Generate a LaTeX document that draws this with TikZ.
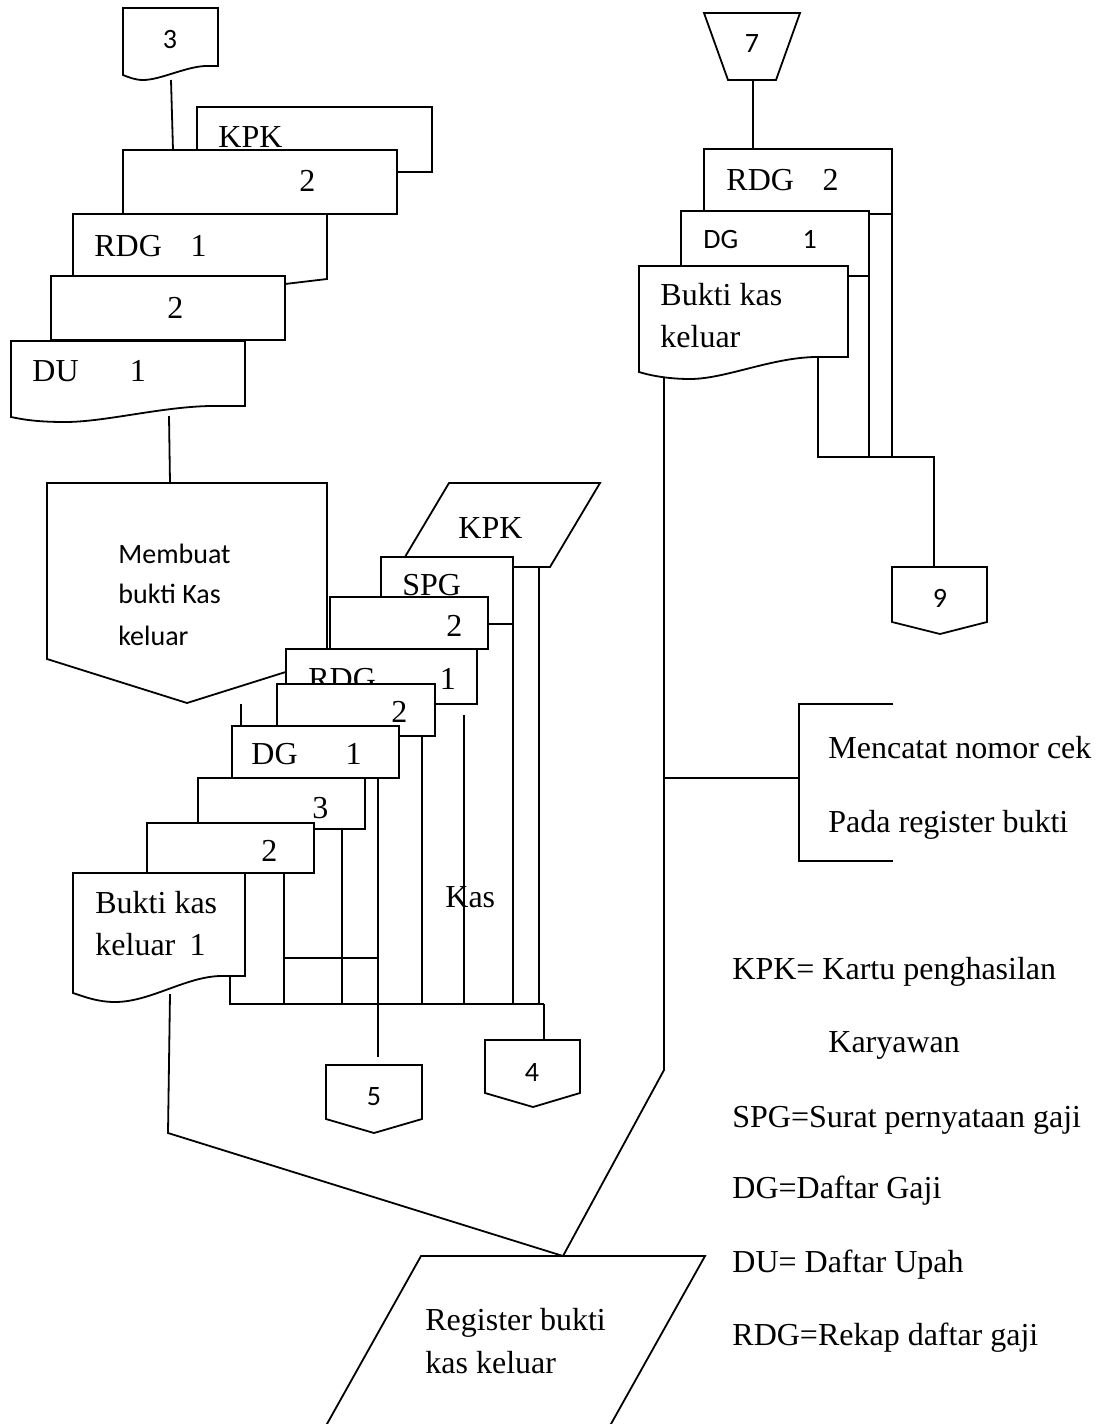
\documentclass[tikz,border=0pt]{standalone}
\usepackage{fontspec}
\setmainfont{Liberation Serif}
\newfontfamily\calibri{Carlito}
\newcommand{\txtfont}{\fontsize{16}{19}\selectfont}
\newcommand{\calfont}{\calibri\fontsize{14}{17}\selectfont}

\begin{document}
\begin{tikzpicture}[
    x=0.5pt, y=-0.5pt,
    shp/.style={draw, line width=0.9pt, fill=white},
    ln/.style={line width=0.9pt},
    txt/.style={inner sep=0pt, anchor=base west, font=\txtfont},
    ctxt/.style={inner sep=0pt, anchor=base west, font=\calfont},
    num/.style={inner sep=0pt, font=\calfont}
  ]
    \useasboundingbox (0,0) rectangle (1099,1424);
    \clip (0,0) rectangle (1099,1424);

    % left stack (top)
    \draw[shp] (123,8) -- (218,8) -- (218,66) -- (205,66)
      .. controls (185,67) and (160,80) .. (143,80)
      .. controls (135,80) and (128,77) .. (123,75) -- cycle;
    \node[num] (offthree) at (170,40) {3};
    \coordinate (threeout) at (171,80);
    \draw[shp] (197,107) rectangle (432,172);
    \node[txt] (kpkback) at (218,147) {KPK};
    \draw[shp] (123,150) rectangle (397,214);
    \coordinate (kpkin) at (173,150);
    \node[txt] (kpkcopy) at (299,191) {2};
    \draw[shp] (73,214) -- (327,214) -- (327,279) -- (285,284) -- (73,284) -- cycle;
    \node[txt] (rdgone) at (94,256) {RDG\hspace{0.9em}1};
    \draw[shp] (51,276) rectangle (285,340);
    \node[txt] (rdgcopy) at (167,318) {2};
    \draw[shp] (11,341) -- (245,341) -- (245,406) -- (210,406)
      .. controls (160,407) and (105,422) .. (65,422)
      .. controls (40,422) and (25,420) .. (11,417) -- cycle;
    \node[txt] (duone) at (32,381) {DU\hspace{1.6em}1};
    \coordinate (duout) at (169,416);
    \draw[ln] (threeout) -- (kpkin);

    % process
    \draw[shp] (47,483) -- (327,483) -- (327,659) -- (187,703) -- (47,659) -- cycle;
    \coordinate (procin) at (170,483);
    \node[ctxt] (proca) at (118,563) {Membuat};
    \node[ctxt] (procb) at (118,603) {bukti Kas};
    \node[ctxt] (procc) at (118,645) {keluar};
    \draw[ln] (duout) -- (procin);

    % middle stack
    \draw[shp] (449,483) -- (600,483) -- (550,567) -- (399,567) -- cycle;
    \node[txt] (kpkin2) at (458,538) {KPK};
    \draw[shp] (381,557) rectangle (513,624);
    \node[txt] (spg) at (402,595) {SPG};
    \draw[shp] (330,597) rectangle (488,649);
    \node[txt] (spgcopy) at (446,636) {2};
    \draw[shp] (286,649) rectangle (477,704);
    \node[txt] (rdgtwo) at (308,689) {RDG\hspace{2em}1};
    \draw[shp] (277,684) rectangle (435,736);
    \node[txt] (rdgcopy2) at (391,722) {2};
    \draw[shp] (232,726) rectangle (399,778);
    \node[txt] (dgone) at (251,764) {DG\hspace{1.5em}1};
    \draw[shp] (198,778) rectangle (365,829);
    \node[txt] (dgthree) at (312,818) {3};
    \draw[shp] (147,823) rectangle (314,873);
    \node[txt] (dgtwo) at (261,861) {2};
    \draw[shp] (73,873) -- (245,873) -- (245,976) -- (220,976)
      .. controls (185,977) and (150,1002) .. (115,1002)
      .. controls (98,1002) and (85,997) .. (73,993) -- cycle;
    \node[txt] (bkka) at (95,913) {Bukti kas};
    \node[txt] (bkkb) at (95,955) {keluar\hspace{0.45em}1};
    \node[txt] (kas) at (445,907) {Kas};

    % joins of the middle stack
    \coordinate (stub) at (241,704);
    \coordinate (dgtop) at (241,726);
    \coordinate (bus) at (544,1004);
    \draw[ln] (stub) -- (dgtop);
    \draw[ln] (513,624) -- (513,0 |- bus);
    \draw[ln] (539,567) -- (539,0 |- bus);
    \draw[ln] (464,715) -- (464,0 |- bus);
    \draw[ln] (422,736) -- (422,0 |- bus);
    \draw[ln] (342,829) -- (342,0 |- bus);
    \draw[ln] (284,873) -- (284,0 |- bus);
    \draw[ln] (284,958) -- (378,958);
    \draw[ln] (230,976) -- (230,0 |- bus) -- (bus);

    % off-page connectors 4 and 5
    \draw[shp] (326,1065) -- (422,1065) -- (422,1119) -- (374,1133) -- (326,1119) -- cycle;
    \node[num] (offfive) at (374,1097) {5};
    \draw[shp] (485,1040) -- (580,1040) -- (580,1093) -- (533,1107) -- (485,1093) -- cycle;
    \node[num] (offfour) at (532,1072) {4};
    \draw[ln] (378,778) -- (378,1057);
    \draw[ln] (bus) -- (544,1040);

    % register
    \draw[shp] (318,1440) -- (421,1256) -- (705,1256) -- (602,1440);
    \coordinate (regin) at (563,1256);
    \node[txt] (rega) at (425,1330) {Register bukti};
    \node[txt] (regb) at (425,1373) {kas keluar};
    \coordinate (bkkout) at (170,994);
    \draw[ln] (bkkout) -- (168,1133) -- (regin);

    % right stack
    \draw[shp] (704,13) -- (800,13) -- (776,80) -- (728,80) -- cycle;
    \node[num] (offseven) at (752,44) {7};
    \draw[ln] (753,80) -- (753,149);
    \draw[shp] (704,149) rectangle (892,214);
    \node[txt] (rdgright) at (726,190) {RDG\hspace{0.9em}2};
    \draw[shp] (681,211) rectangle (869,276);
    \node[ctxt] (dgright) at (703,248) {DG\hspace{2.3em}1};
    \draw[shp] (639,266) -- (848,266) -- (848,357) -- (815,357)
      .. controls (770,358) and (725,379) .. (690,379)
      .. controls (670,379) and (652,376) .. (639,372) -- cycle;
    \node[txt] (bkkr1) at (660,305) {Bukti kas};
    \node[txt] (bkkr2) at (660,347) {keluar};

    \draw[shp] (892,567) -- (987,567) -- (987,622) -- (940,634) -- (892,622) -- cycle;
    \node[num] (offnine) at (940,598) {9};
    \coordinate (ninein) at (934,567);
    \draw[ln] (892,214) -- (892,457);
    \draw[ln] (869,276) -- (869,457);
    \draw[ln] (818,357) -- (818,457) -- (ninein |- 0,457) -- (ninein);

    % recording step
    \coordinate (bkkrout) at (664,377);
    \coordinate (branch) at (664,778);
    \draw[ln] (bkkrout) -- (664,1070) -- (regin);
    \draw[ln] (branch) -- (799,778);
    \draw[ln] (893,704) -- (799,704) -- (799,861) -- (893,861);
    \node[txt] (recorda) at (828,758) {Mencatat nomor cek};
    \node[txt] (recordb) at (828,832) {Pada register bukti};

    % legend
    \node[txt] (lgkpk) at (732,979) {KPK= Kartu penghasilan};
    \node[txt] (lgkpk2) at (828,1052) {Karyawan};
    \node[txt] (lgspg) at (732,1127) {SPG=Surat pernyataan gaji};
    \node[txt] (lgdg) at (732,1198) {DG=Daftar Gaji};
    \node[txt] (lgdu) at (732,1272) {DU= Daftar Upah};
    \node[txt] (lgrdg) at (732,1345) {RDG=Rekap daftar gaji};
  \end{tikzpicture}
\end{document}
